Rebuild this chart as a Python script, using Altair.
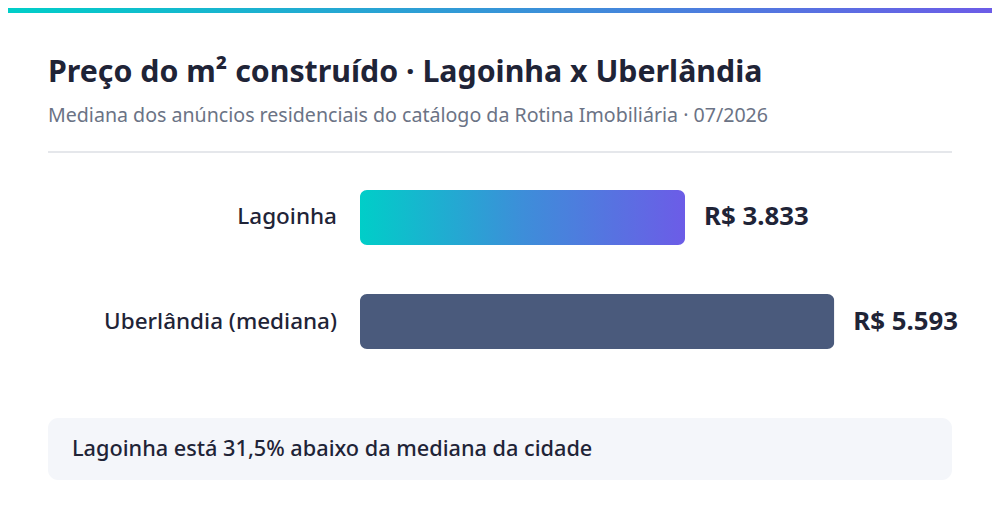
import altair as alt
import pandas as pd

# ---- data ----
categories = ["Lagoinha", "Uberlândia (mediana)"]
values = [3833, 5593]
value_labels = ["R$ 3.833", "R$ 5.593"]
title_text = "Preço do m² construído · Lagoinha x Uberlândia"
subtitle_text = "Mediana dos anúncios residenciais do catálogo da Rotina Imobiliária · 07/2026"
note_text = "Lagoinha está 31,5% abaixo da mediana da cidade"

FONT = "Noto Sans"
DARK = "#1f2437"
W, H = 984, 504

df = pd.DataFrame({"cat": categories, "v": values, "label": value_labels})

xscale = alt.Scale(domain=[0, 10000], range=[352, 1200])
yscale = alt.Scale(domain=categories, range=[182, 341], paddingInner=0.4712, paddingOuter=0)

x_enc = alt.X("v:Q", scale=xscale, axis=None)
y_enc = alt.Y("cat:N", scale=yscale, axis=None, sort=categories)

base = alt.Chart(df)

grad = alt.Gradient(
    gradient="linear",
    stops=[alt.GradientStop(color="#00cec8", offset=0),
           alt.GradientStop(color="#3d8ed9", offset=0.5),
           alt.GradientStop(color="#6c5ce7", offset=1)],
    x1=0, x2=1, y1=0, y2=0,
)

bar_lag = base.transform_filter(alt.datum.cat == categories[0]).mark_bar(
    cornerRadius=7, color=grad
).encode(x=x_enc, y=y_enc)

bar_ub = base.transform_filter(alt.datum.cat == categories[1]).mark_bar(
    cornerRadius=7, color="#4a5a7c"
).encode(x=x_enc, y=y_enc)

cat_text = base.mark_text(
    align="right", baseline="middle", font=FONT, fontSize=22.5, fontWeight=500, color=DARK
).encode(x=alt.value(329), y=y_enc, text="cat:N")

val_text = base.mark_text(
    align="left", baseline="middle", font=FONT, fontSize=25.8, fontWeight="bold", color=DARK, dx=19
).encode(x=x_enc, y=y_enc, text="label:N")

one = pd.DataFrame({"k": [0]})
deco = alt.Chart(one)

top_bar = deco.mark_rect(color=alt.Gradient(
    gradient="linear",
    stops=[alt.GradientStop(color="#00cec8", offset=0),
           alt.GradientStop(color="#6c5ce7", offset=1)],
    x1=0, x2=1, y1=0, y2=0,
)).encode(x=alt.value(0), x2=alt.value(W), y=alt.value(0), y2=alt.value(5))

title = deco.mark_text(
    align="left", baseline="alphabetic", font=FONT, fontSize=30.3, fontWeight="bold", color=DARK
).encode(x=alt.value(40), y=alt.value(74), text=alt.value(title_text))

subtitle = deco.mark_text(
    align="left", baseline="alphabetic", font=FONT, fontSize=19.6, color="#6b7385"
).encode(x=alt.value(40), y=alt.value(114), text=alt.value(subtitle_text))

divider = deco.mark_rule(color="#e5e7eb", strokeWidth=2).encode(
    x=alt.value(40), x2=alt.value(944), y=alt.value(144)
)

note_box = deco.mark_rect(color="#f4f6fa", cornerRadius=10).encode(
    x=alt.value(40), x2=alt.value(944), y=alt.value(410), y2=alt.value(472)
)

note = deco.mark_text(
    align="left", baseline="middle", font=FONT, fontSize=21.7, fontWeight=500, color=DARK
).encode(x=alt.value(64), y=alt.value(441), text=alt.value(note_text))

chart = alt.layer(
    top_bar, title, subtitle, divider, bar_lag, bar_ub, cat_text, val_text, note_box, note
).properties(
    width=W, height=H, padding=0, autosize=alt.AutoSizeParams(type="none"),
    background="white",
).configure_view(stroke=None)

chart.save("out.html", embed_options={"renderer": "svg", "actions": False})
